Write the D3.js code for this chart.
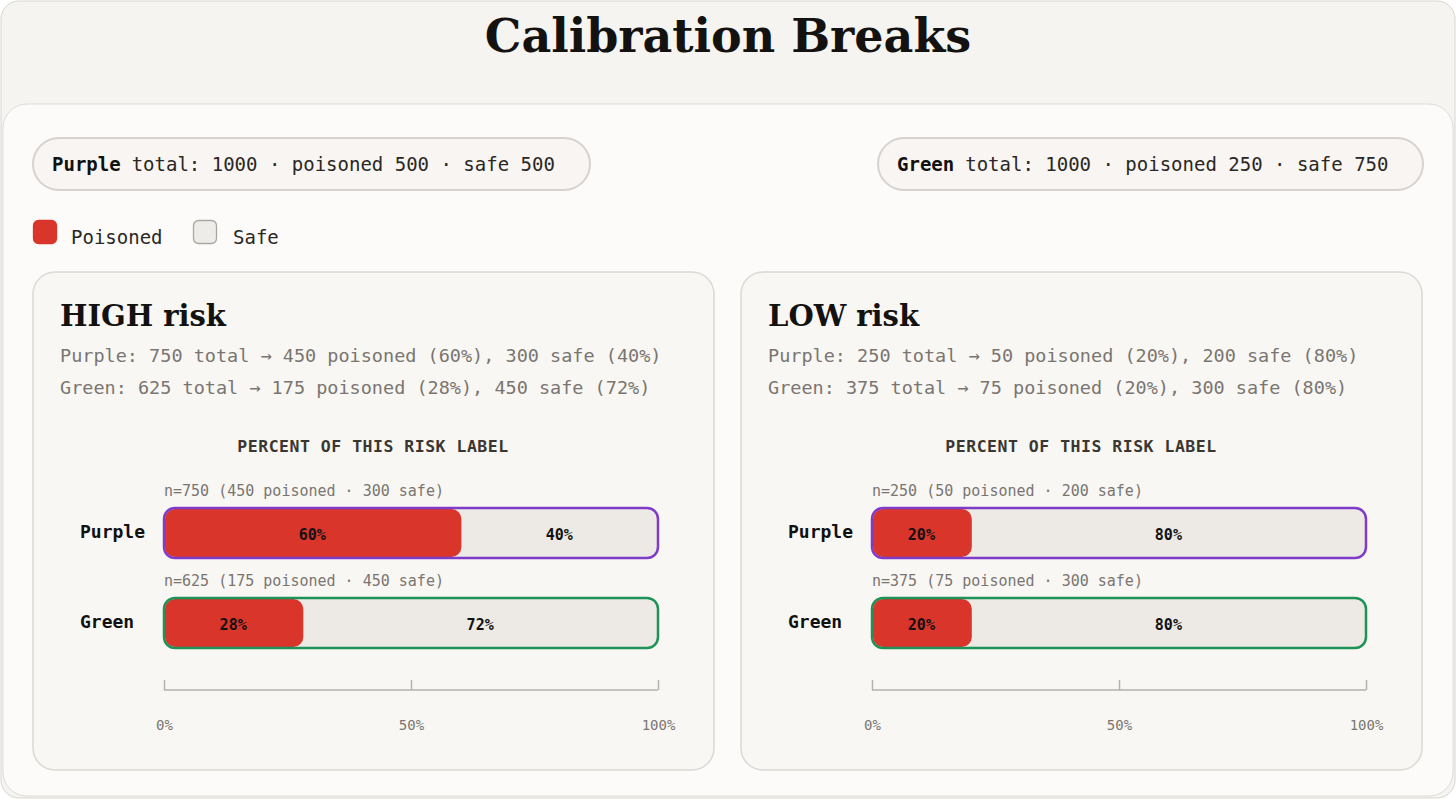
<!DOCTYPE html>
<html><head><meta charset="utf-8">
<script src="https://cdn.jsdelivr.net/npm/d3@7"></script>
<style>body{margin:0;background:#fff}svg{display:block}</style>
</head><body><svg id="c" width="1456" height="799"></svg>
<script>
// ==== data
const groups = ['Purple', 'Green'];
const groupTotals = [1000, 1000];
const groupPoisoned = [500, 250];
const groupSafe = [500, 750];
const panelTitles = ['HIGH risk', 'LOW risk'];
const rowTotals = [[750, 625], [250, 375]];
const rowPoisoned = [[450, 175], [50, 75]];
const rowSafe = [[300, 450], [200, 300]];
const axisTicks = [0, 50, 100];

const mono = "'DejaVu Sans Mono', 'Liberation Mono', monospace";
const serif = "'DejaVu Serif', 'Liberation Serif', serif";
const red = '#d9352b', safeFill = '#ede9e4';
const groupStroke = ['#7e3cc9', '#1f9257'];

const svg = d3.select('#c');
svg.append('rect').attr('x', 1).attr('y', 1).attr('width', 1454).attr('height', 797).attr('rx', 18)
    .attr('fill', '#f6f4f1').attr('stroke', '#d8d5d0');
svg.append('rect').attr('x', 3).attr('y', 104).attr('width', 1450).attr('height', 692).attr('rx', 24)
    .attr('fill', '#fcfbfa').attr('stroke', '#dedbd6');
svg.append('text').attr('x', 728).attr('y', 52).attr('text-anchor', 'middle')
    .attr('font-family', serif).attr('font-weight', 'bold').attr('font-size', 46).attr('fill', '#141210')
    .text('Calibration Breaks');

// pills
const pillX = [[33, 557], [878, 545]];
groups.forEach((g, i) => {
    const p = svg.append('g').attr('transform', `translate(${pillX[i][0]},138)`);
    p.append('rect').attr('width', pillX[i][1]).attr('height', 52).attr('rx', 26)
        .attr('fill', '#f8f5f2').attr('stroke', '#d6d2cd').attr('stroke-width', 2);
    const t = p.append('text').attr('x', 19).attr('y', 33).attr('font-family', mono).attr('font-size', 19).attr('fill', '#2a2724');
    t.append('tspan').attr('font-weight', 'bold').attr('fill', '#111').text(g);
    t.append('tspan').attr('dx', 11).text(`total: ${groupTotals[i]} · poisoned ${groupPoisoned[i]} · safe ${groupSafe[i]}`);
});

// legend
[['Poisoned', red, red, 33, 71], ['Safe', '#eeece9', '#aaa6a1', 193, 233]].forEach(([lab, f, s, x, tx]) => {
    svg.append('rect').attr('x', x + 0.5).attr('y', 220.5).attr('width', 23).attr('height', 23).attr('rx', 5)
        .attr('fill', f).attr('stroke', s).attr('stroke-width', 1.3);
    svg.append('text').attr('x', tx).attr('y', 244).attr('font-family', mono).attr('font-size', 19).attr('fill', '#2a2724').text(lab);
});

// panels
const panelX = [33, 741];
panelTitles.forEach((title, pi) => {
    const g = svg.append('g').attr('transform', `translate(${panelX[pi]},272)`);
    g.append('rect').attr('width', 681).attr('height', 498).attr('rx', 22)
        .attr('fill', '#f8f7f4').attr('stroke', '#dcd9d4').attr('stroke-width', 1.5);
    g.append('text').attr('x', 27).attr('y', 54).attr('font-family', serif).attr('font-weight', 'bold')
        .attr('font-size', 29).attr('fill', '#141210').text(title);
    groups.forEach((gr, i) => {
        const pp = Math.round(rowPoisoned[pi][i] / rowTotals[pi][i] * 100);
        g.append('text').attr('x', 27).attr('y', 90 + i * 32).attr('font-family', mono).attr('font-size', 18.5)
            .attr('fill', '#7a7570')
            .text(`${gr}: ${rowTotals[pi][i]} total → ${rowPoisoned[pi][i]} poisoned (${pp}%), ${rowSafe[pi][i]} safe (${100 - pp}%)`);
    });
    g.append('text').attr('x', 340).attr('y', 180).attr('text-anchor', 'middle').attr('font-family', mono)
        .attr('font-weight', 'bold').attr('font-size', 16.5).attr('letter-spacing', 0.5).attr('fill', '#3a3632')
        .text('PERCENT OF THIS RISK LABEL');

    const x = d3.scaleLinear().domain([0, 100]).range([131, 625]);
    const y = d3.scaleBand().domain(groups).range([236, 386]).paddingInner(0.8).paddingOuter(0);
    const bh = 50;
    groups.forEach((gr, i) => {
        const pp = rowPoisoned[pi][i] / rowTotals[pi][i] * 100;
        const y0 = y(gr) - (i === 0 ? 0 : 10);
        const yy = i === 0 ? 236 : 326;
        g.append('text').attr('x', x(0)).attr('y', yy - 12).attr('font-family', mono).attr('font-size', 15)
            .attr('fill', '#7a7570').text(`n=${rowTotals[pi][i]} (${rowPoisoned[pi][i]} poisoned · ${rowSafe[pi][i]} safe)`);
        g.append('text').attr('x', 47).attr('y', yy + 30).attr('font-family', mono).attr('font-weight', 'bold')
            .attr('font-size', 18).attr('fill', '#111').text(gr);
        g.append('rect').attr('x', x(0)).attr('y', yy).attr('width', x(100) - x(0)).attr('height', bh).attr('rx', 11)
            .attr('fill', safeFill);
        g.append('rect').attr('x', x(0) + 1).attr('y', yy + 1).attr('width', x(pp) - x(0)).attr('height', bh - 2).attr('rx', 10)
            .attr('fill', red);
        g.append('rect').attr('x', x(0)).attr('y', yy).attr('width', x(100) - x(0)).attr('height', bh).attr('rx', 11)
            .attr('fill', 'none').attr('stroke', groupStroke[i]).attr('stroke-width', 2.5);
        [[pp / 2, Math.round(pp)], [pp + (100 - pp) / 2, 100 - Math.round(pp)]].forEach(([c, v]) => {
            g.append('text').attr('x', x(c)).attr('y', yy + 32).attr('text-anchor', 'middle').attr('font-family', mono)
                .attr('font-weight', 'bold').attr('font-size', 15).attr('fill', '#111').text(v + '%');
        });
    });

    const ax = g.append('g').attr('transform', 'translate(0,418)')
        .call(d3.axisBottom(x).tickValues(axisTicks).tickSize(-10).tickPadding(20).tickFormat(d => d + '%'));
    ax.select('.domain').attr('stroke', '#b5b1ac').attr('stroke-width', 1.5).attr('d', `M${x(0)},0H${x(100)}`);
    ax.selectAll('.tick line').attr('stroke', '#b5b1ac').attr('stroke-width', 1.5).attr('y1', 0).attr('y2', -10);
    ax.selectAll('.tick text').attr('y', 30).attr('font-family', mono).attr('font-size', 14).attr('fill', '#7a7570');
});
</script></body></html>
